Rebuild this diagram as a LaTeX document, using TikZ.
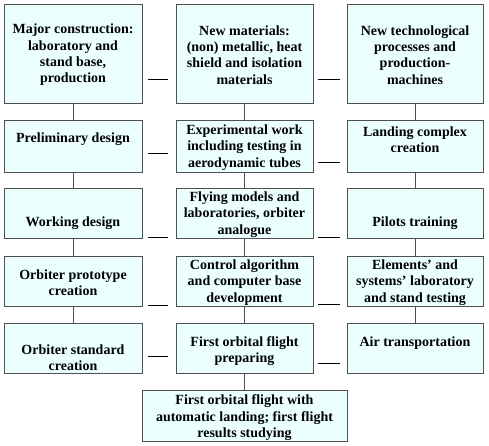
\documentclass[tikz,border=0pt]{standalone}
\usepackage{fontspec}
\setmainfont{Liberation Serif}
\definecolor{boxfill}{RGB}{236,255,255}
\definecolor{boxedge}{RGB}{80,80,80}
\begin{document}
\begin{tikzpicture}[x=1pt,y=-1pt,
  box/.style={draw=boxedge,fill=boxfill,line width=0.9pt,inner sep=0pt},
  txt/.style={align=center,font=\fontsize{14}{16.4}\selectfont\bfseries,inner sep=0pt},
  link/.style={draw=boxedge,line width=0.9pt},
  dashline/.style={draw=black,line width=0.9pt}]
\useasboundingbox (0,0) rectangle (489,446);
% columns: c1 4-142, c2 176-313, c3 347-483
% row 1
\node[box,minimum width=138,minimum height=99] (b11) at (73,53.5) {};
\node[box,minimum width=137,minimum height=99] (b12) at (244.5,53.5) {};
\node[box,minimum width=136,minimum height=99] (b13) at (415,53.5) {};
% row 2
\node[box,minimum width=138,minimum height=52] (b21) at (73,146) {};
\node[box,minimum width=137,minimum height=52] (b22) at (244.5,146) {};
\node[box,minimum width=136,minimum height=52] (b23) at (415,146) {};
% row 3
\node[box,minimum width=138,minimum height=50] (b31) at (73,213) {};
\node[box,minimum width=137,minimum height=50] (b32) at (244.5,213) {};
\node[box,minimum width=136,minimum height=50] (b33) at (415,213) {};
% row 4
\node[box,minimum width=138,minimum height=50] (b41) at (73,281) {};
\node[box,minimum width=137,minimum height=50] (b42) at (244.5,281) {};
\node[box,minimum width=136,minimum height=50] (b43) at (415,281) {};
% row 5
\node[box,minimum width=138,minimum height=50] (b51) at (73,348) {};
\node[box,minimum width=137,minimum height=50] (b52) at (244.5,348) {};
\node[box,minimum width=136,minimum height=50] (b53) at (415,348) {};
% row 6
\node[box,minimum width=205,minimum height=51] (b6) at (244.5,415.5) {};
% texts
\node[txt] (t11) at (73,55) {Major construction:\\laboratory and\\stand base,\\production};
\node[txt] (t12) at (244.5,55) {New materials:\\(non) metallic, heat\\shield and isolation\\materials};
\node[txt] (t13) at (415,55) {New technological\\processes and\\production-\\machines};
\node[txt] (t21) at (73,139) {Preliminary design};
\node[txt] (t22) at (244.5,147.5) {Experimental work\\including testing in\\aerodynamic tubes};
\node[txt] (t23) at (415,139.5) {Landing complex\\creation};
\node[txt] (t31) at (73,223) {Working design};
\node[txt] (t32) at (244.5,214.5) {Flying models and\\laboratories, orbiter\\analogue};
\node[txt] (t33) at (415,223) {Pilots training};
\node[txt] (t41) at (73,283) {Orbiter prototype\\creation};
\node[txt] (t42) at (244.5,282.5) {Control algorithm\\and computer base\\development};
\node[txt] (t43) at (415,282.5) {Elements’ and\\systems’ laboratory\\and stand testing};
\node[txt] (t51) at (73,358) {Orbiter standard\\creation};
\node[txt] (t52) at (244.5,351) {First orbital flight\\preparing};
\node[txt] (t53) at (415,343) {Air transportation};
\node[txt] (t6) at (244.5,418) {First orbital flight with\\automatic landing; first flight\\results studying};
% vertical connectors
\foreach \c in {1,2,3}{
  \draw[link] (b1\c.south) -- (b2\c.north);
  \draw[link] (b2\c.south) -- (b3\c.north);
  \draw[link] (b3\c.south) -- (b4\c.north);
  \draw[link] (b4\c.south) -- (b5\c.north);
}
\draw[link] (b52.south) -- (b6.north);
% floating dashes
\coordinate (d1a) at (148,79);  \coordinate (d1b) at (168,79);
\coordinate (d1c) at (318,79);  \coordinate (d1d) at (340,79);
\coordinate (d2a) at (148,153); \coordinate (d2b) at (168,153);
\coordinate (d2c) at (318,162); \coordinate (d2d) at (340,162);
\coordinate (d3a) at (148,237); \coordinate (d3b) at (168,237);
\coordinate (d3c) at (318,237); \coordinate (d3d) at (340,237);
\coordinate (d4a) at (148,305); \coordinate (d4b) at (168,305);
\coordinate (d4c) at (318,304); \coordinate (d4d) at (340,304);
\coordinate (d5a) at (148,356); \coordinate (d5b) at (168,356);
\coordinate (d5c) at (318,363); \coordinate (d5d) at (340,363);
\foreach \r in {1,...,5}{
  \draw[dashline] (d\r a) -- (d\r b);
  \draw[dashline] (d\r c) -- (d\r d);
}
\end{tikzpicture}
\end{document}
